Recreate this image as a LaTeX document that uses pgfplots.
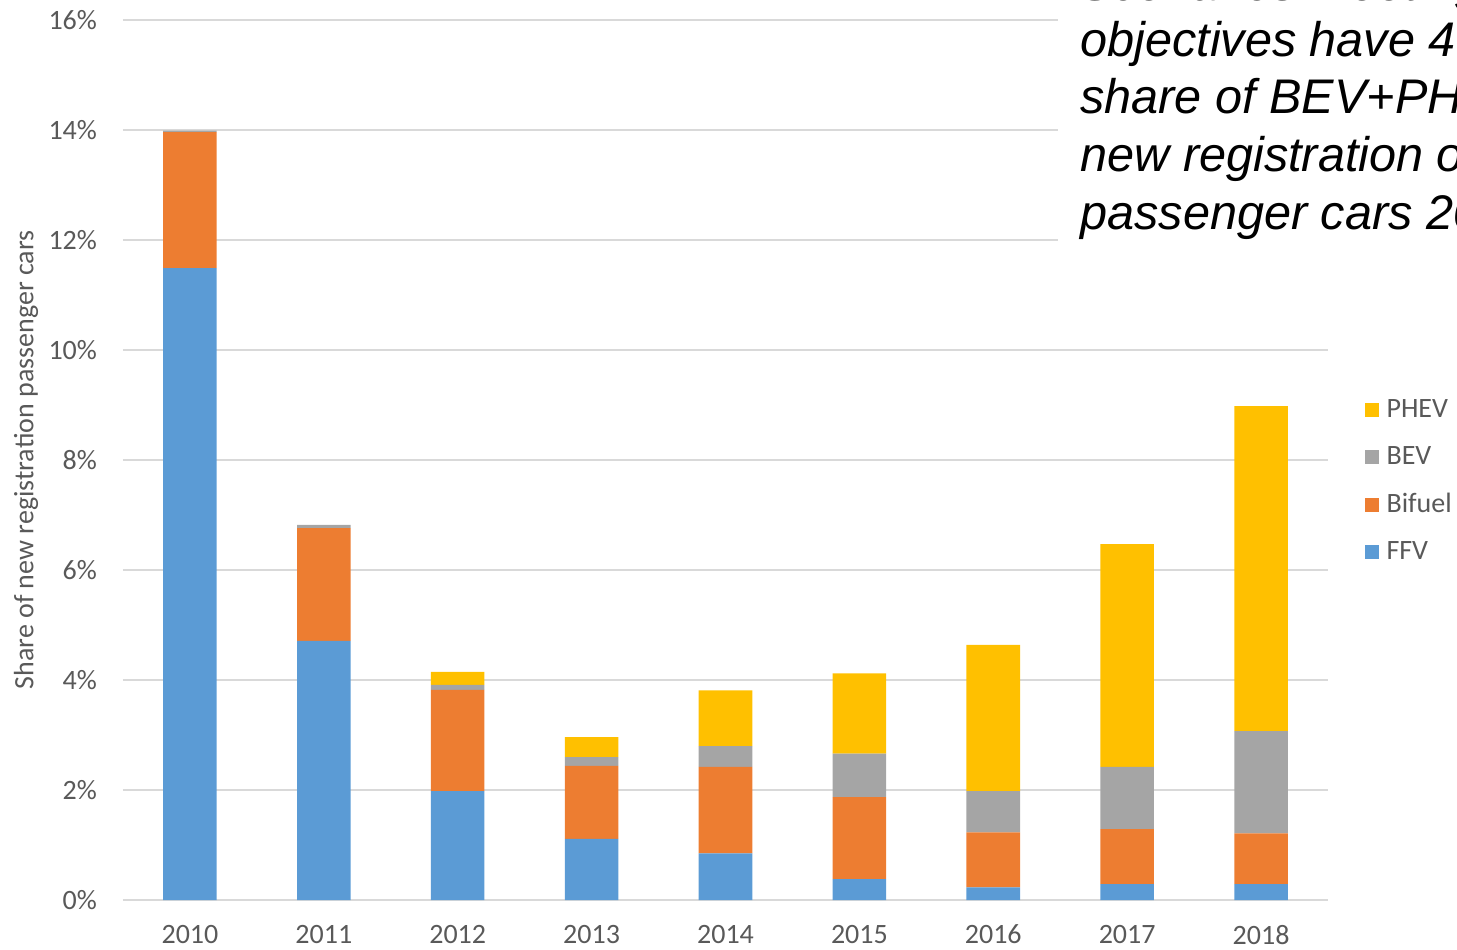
\documentclass[border=0pt]{standalone}
\usepackage{pgfplots}
\pgfplotsset{compat=1.18}
\usepackage{fontspec}
\setmainfont{Carlito}
\newfontfamily\arial{Liberation Sans}

\definecolor{ffv}{HTML}{5B9BD5}
\definecolor{bifuel}{HTML}{ED7D31}
\definecolor{bev}{HTML}{A5A5A5}
\definecolor{phev}{HTML}{FFC000}
\definecolor{txtgray}{HTML}{595959}
\definecolor{gridgray}{HTML}{D9D9D9}

\begin{document}
\begin{tikzpicture}
\useasboundingbox (0,0) rectangle (728.5pt,474.5pt);
\clip (0,0) rectangle (728.5pt,474.5pt);
\begin{axis}[
    at={(61.5pt,24.5pt)}, anchor=south west,
    width=602.5pt, height=440pt, scale only axis,
    ybar stacked, bar width=0.4,
    xmin=-0.5, xmax=8.5,
    ymin=0, ymax=16,
    xtick=data,
    xticklabels={2010,2011,2012,2013,2014,2015,2016,2017,2018},
    ytick={0,2,...,16},
    yticklabel={\pgfmathprintnumber{\tick}\%},
    /pgf/number format/assume math mode=true,
    major tick length=0pt,
    xmajorgrids=false,
    ymajorgrids=true,
    major grid style={draw=gridgray, line width=0.9pt},
    axis line style={draw=none},
    tick label style={font=\fontsize{14}{16}\selectfont, text=txtgray},
    yticklabel style={xshift=-9.5pt},
    xticklabel style={yshift=-9pt},
    ylabel={Share of new registration passenger cars},
    every axis y label/.style={at={(axis description cs:0,0.5)}, xshift=-48.5pt,
        rotate=90, anchor=center, font=\fontsize{14}{16}\selectfont, text=txtgray},
    legend style={draw=none, fill=none, at={(1.03,0.476)}, anchor=west,
        font=\fontsize{14}{16}\selectfont, text=txtgray, row sep=9pt,
        inner sep=0pt, /tikz/every odd column/.append style={column sep=2pt}},
    legend cell align=left,
    reverse legend,
    legend image code/.code={\fill[#1] (0pt,-3.5pt) rectangle (7pt,3.5pt);},
]
\addplot[fill=ffv, draw=none] coordinates
    {(0,11.49) (1,4.71) (2,1.98) (3,1.11) (4,0.85) (5,0.38) (6,0.23) (7,0.29) (8,0.29)};
\addplot[fill=bifuel, draw=none] coordinates
    {(0,2.47) (1,2.05) (2,1.84) (3,1.33) (4,1.57) (5,1.49) (6,1.00) (7,1.00) (8,0.92)};
\addplot[fill=bev, draw=none] coordinates
    {(0,0.03) (1,0.06) (2,0.09) (3,0.16) (4,0.38) (5,0.79) (6,0.75) (7,1.13) (8,1.86)};
\addplot[fill=phev, draw=none] coordinates
    {(0,0) (1,0) (2,0.24) (3,0.36) (4,1.01) (5,1.46) (6,2.66) (7,4.05) (8,5.91)};
\legend{FFV,Bifuel,BEV,PHEV}
\end{axis}
\fill[white] (529pt,344.5pt) rectangle (728.5pt,474.5pt);
\begin{scope}[every node/.style={anchor=base west, inner sep=0pt,
    font=\arial\itshape\fontsize{24.3}{26}\selectfont}]
\node at (540pt,474pt) {Scenarios meeting};
\node at (540pt,446pt) {objectives have 40\%};
\node at (540pt,417.5pt) {share of BEV+PHEV};
\node at (540pt,388.5pt) {new registration of};
\node at (540pt,359.5pt) {passenger cars 2030};
\end{scope}
\end{tikzpicture}
\end{document}
